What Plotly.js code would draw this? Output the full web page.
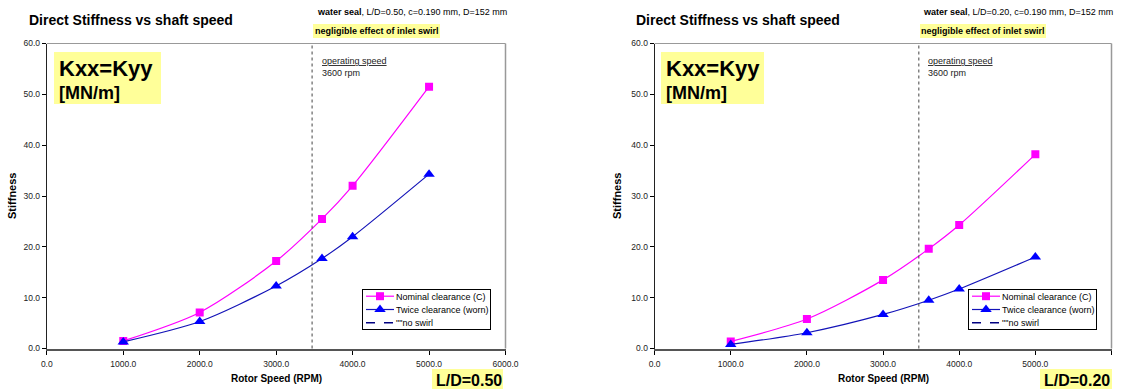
<!DOCTYPE html>
<html>
<head>
<meta charset="utf-8">
<script src="https://cdn.plot.ly/plotly-3.0.1.min.js"></script>
<style>html,body{margin:0;padding:0;background:#fff;}#chart{width:1123px;height:389px;}</style>
</head>
<body>
<div id="chart"></div>
<script>
// ---- data ----
const speeds = [1000, 2000, 3000, 3600, 4000, 5000];
const nominalLD050 = [1.5, 7.1, 17.2, 25.5, 32.0, 51.5];
const twiceLD050   = [1.3, 5.3, 12.3, 17.7, 22.0, 34.3];
const nominalLD020 = [1.4, 5.8, 13.5, 19.6, 24.3, 38.2];
const twiceLD020   = [0.8, 3.1, 6.7, 9.5, 11.7, 18.0];
// "no swirl" series: listed in the legend, no points plotted in the reference
const noSwirlX = [null];
const noSwirlY = [null];
const seriesNames = ['Nominal clearance (C)', 'Twice clearance (worn)', '""no swirl'];
const xTicks = [0, 1000, 2000, 3000, 4000, 5000, 6000];
const yTicks = [0, 10, 20, 30, 40, 50, 60];
const operatingLineX = 3470;
const chartTitle = 'Direct Stiffness vs shaft speed';
const sealInfo = ['<b>water seal</b>, L/D=0.50, c=0.190 mm, D=152 mm', '<b>water seal</b>, L/D=0.20, c=0.190 mm, D=152 mm'];
const ldLabels = ['L/D=0.50', 'L/D=0.20'];

const W = 1123, H = 389;
const px = v => v / W;
const py = v => 1 - v / H;
const FONT = 'Liberation Sans, Arial, sans-serif';

function traces(nom, twice, xa, ya, lg) {
  return [
    {x: speeds, y: nom, xaxis: xa, yaxis: ya, legend: lg, name: seriesNames[0], type: 'scatter', mode: 'lines+markers',
     line: {color: '#FF00FF', width: 1.2, shape: 'spline', smoothing: 0.8},
     marker: {symbol: 'square', size: 8, color: '#FF00FF'}},
    {x: speeds, y: twice, xaxis: xa, yaxis: ya, legend: lg, name: seriesNames[1], type: 'scatter', mode: 'lines+markers',
     line: {color: '#1414B8', width: 1.2, shape: 'spline', smoothing: 0.8},
     marker: {symbol: 'triangle-up', size: 10, color: '#0000FF'}},
    {x: noSwirlX, y: noSwirlY, xaxis: xa, yaxis: ya, legend: lg, name: seriesNames[2], type: 'scatter', mode: 'lines',
     line: {color: '#000080', width: 1.5, dash: 'dash'}}
  ];
}

const data = [].concat(
  traces(nominalLD050, twiceLD050, 'x', 'y', 'legend'),
  traces(nominalLD020, twiceLD020, 'x2', 'y2', 'legend2')
);

const yDom = [py(348.5), py(43.5)];
function xAxis(d0, d1, anchor) {
  return {domain: [px(d0), px(d1)], anchor: anchor, range: [0, 6000], tickvals: xTicks, tickformat: '.1f',
    ticks: 'outside', ticklen: 4, tickcolor: '#000', showline: true, linecolor: '#555', linewidth: 2,
    showgrid: false, zeroline: false, tickfont: {family: FONT, size: 8.5, color: '#222'}, ticklabelstandoff: 2, fixedrange: true};
}
function yAxis(anchor) {
  return {domain: yDom, anchor: anchor, range: [0, 60], tickvals: yTicks, tickformat: '.1f',
    ticks: 'outside', ticklen: 4, tickcolor: '#000', showline: true, linecolor: '#222', linewidth: 1,
    showgrid: false, zeroline: false, tickfont: {family: FONT, size: 8.5, color: '#222'}, fixedrange: true};
}

const panels = [
  {xa: 'x', ya: 'y', x0: 46.8, x1: 505.5, legX: 362},
  {xa: 'x2', ya: 'y2', x0: 654.6, x1: 1111.5, legX: 968}
];
const legendTop = 289;

const shapes = [];
const annotations = [];
panels.forEach((p, i) => {
  // plot area top & right border
  shapes.push({type: 'line', xref: 'paper', yref: 'paper', x0: px(p.x0), x1: px(p.x1), y0: yDom[1], y1: yDom[1], line: {color: '#999', width: 1}});
  shapes.push({type: 'line', xref: 'paper', yref: 'paper', x0: px(p.x1), x1: px(p.x1), y0: yDom[0], y1: yDom[1], line: {color: '#999', width: 1.5}});
  // operating speed line
  shapes.push({type: 'line', xref: p.xa, yref: p.ya + ' domain', x0: operatingLineX, x1: operatingLineX, y0: 0, y1: 1, line: {color: '#444', width: 1, dash: 'dot'}});
  // yellow boxes
  const kx0 = i === 0 ? 54 : 661, kx1 = i === 0 ? 161 : 764;
  shapes.push({type: 'rect', xref: 'paper', yref: 'paper', x0: px(kx0), x1: px(kx1), y0: py(104), y1: py(52), fillcolor: '#FFFF99', line: {width: 0}, layer: 'below'});
  const nx0 = i === 0 ? 313 : 920, nx1 = i === 0 ? 440 : 1046;
  shapes.push({type: 'rect', xref: 'paper', yref: 'paper', x0: px(nx0), x1: px(nx1), y0: py(38), y1: py(24), fillcolor: '#FFFF99', line: {width: 0}, layer: 'below'});
  const lx0 = i === 0 ? 432 : 1040, lx1 = i === 0 ? 503 : 1112;
  shapes.push({type: 'rect', xref: 'paper', yref: 'paper', x0: px(lx0), x1: px(lx1), y0: py(389), y1: py(369), fillcolor: '#FFFF99', line: {width: 0}, layer: 'below'});

  const A = (text, x, y, size, extra) => Object.assign({text: text, xref: 'paper', yref: 'paper', x: px(x), y: py(y),
    xanchor: 'left', yanchor: 'middle', showarrow: false, font: {family: FONT, size: size, color: '#000'}}, extra || {});

  annotations.push(A('<b>' + chartTitle + '</b>', 27 + (i === 0 ? 0 : 607), 19.5, 14));
  annotations.push(A(sealInfo[i], i === 0 ? 315 : 921, 12, 9));
  annotations.push(A('<b>negligible effect of inlet swirl</b>', (i === 0 ? 313 : 919), 31, 9));
  annotations.push(A('<b>Kxx=Kyy</b>', kx0 + 3, 69, 22));
  annotations.push(A('<b>[MN/m]</b>', kx0 + 3, 93, 18));
  annotations.push(A('<span style="text-decoration:underline">operating speed</span><br>3600 rpm', i === 0 ? 320 : 926, 67, 9, {align: 'left', font: {family: FONT, size: 9, color: '#222'}}));
  annotations.push(A('<b>' + ldLabels[i] + '</b>', lx0 + 2, 380, 16));
  annotations.push(A('<b>Rotor Speed (RPM)</b>', (p.x0 + p.x1) / 2, 378, 10, {xanchor: 'center'}));
  annotations.push(A('<b>Stiffness</b>', 12 + (i === 0 ? 0 : 605), 196, 11, {xanchor: 'center', textangle: -90}));
});

function legendCfg(x) {
  return {x: px(x), y: py(legendTop), xanchor: 'left', yanchor: 'top', bgcolor: '#fff', bordercolor: '#000', borderwidth: 1,
    font: {family: FONT, size: 9, color: '#000'}, itemwidth: 30, tracegroupgap: 0, itemclick: false, itemdoubleclick: false};
}

const layout = {
  width: W, height: H, margin: {l: 0, r: 0, t: 0, b: 0},
  paper_bgcolor: '#fff', plot_bgcolor: '#fff', showlegend: true,
  font: {family: FONT, color: '#000'},
  xaxis: xAxis(panels[0].x0, panels[0].x1, 'y'),
  yaxis: yAxis('x'),
  xaxis2: xAxis(panels[1].x0, panels[1].x1, 'y2'),
  yaxis2: yAxis('x2'),
  legend: legendCfg(panels[0].legX),
  legend2: legendCfg(panels[1].legX),
  shapes: shapes,
  annotations: annotations
};

// tighten the legend boxes to match the compact original legends
function compactAll(gd) {
  ['legend', 'legend2'].forEach(name => {
    const lg = gd.querySelector('g.' + name);
    if (!lg) return;
    lg.querySelectorAll('g.traces').forEach((it, k) => {
      const m = /translate\(\s*([-\d.]+)[ ,]+([-\d.]+)\s*\)/.exec(it.getAttribute('transform') || '');
      const tx = m ? parseFloat(m[1]) : 0;
      it.setAttribute('transform', 'translate(' + tx + ',' + (7.2 + 13.3 * k) + ')');
      it.querySelectorAll('text').forEach(t => {
        t.setAttribute('x', 33);
        t.querySelectorAll('tspan[x]').forEach(s => s.setAttribute('x', 33));
      });
      it.querySelectorAll('g.legendlines path').forEach(pth => pth.setAttribute('d', 'M3,0h28'));
      it.querySelectorAll('g.legendpoints path.scatterpts').forEach(pth => pth.setAttribute('transform', 'translate(17,0)'));
    });
    const bg = lg.querySelector('rect.bg');
    if (bg) { bg.setAttribute('height', 40); bg.setAttribute('width', 128); }
  });
}

const gd = document.getElementById('chart');
Plotly.newPlot(gd, data, layout, {displayModeBar: false, staticPlot: true}).then(() => {
  compactAll(gd);
  requestAnimationFrame(() => compactAll(gd));
  setTimeout(() => compactAll(gd), 50);
  setTimeout(() => compactAll(gd), 300);
});
</script>
</body>
</html>
